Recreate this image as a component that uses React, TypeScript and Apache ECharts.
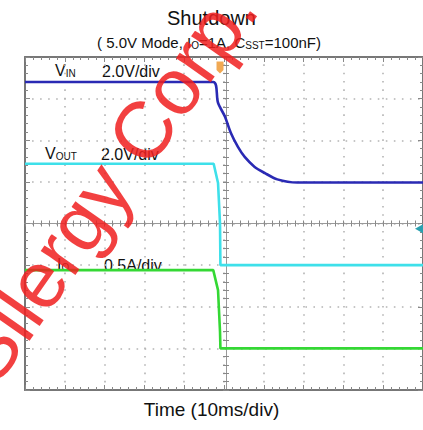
import React, { useEffect, useRef } from "react";
import * as echarts from "echarts";

// time in ms (10 ms/div, trigger at 0)
const vinTime = [-50, -2.7, -1.5, 0.25, 1.7, 3.5, 5.2, 7.7, 10.2, 13.4, 18.4, 50];
const vinValue = [4.8, 4.8, 3.8, 3.13, 2.36, 1.68, 1.2, 0.72, 0.43, 0.12, -0.03, -0.03];
const voutTime = [-50, -2.6, -1.5, -1.0, -0.9, 50];
const voutValue = [4.87, 4.87, 3.95, 2.0, 0.0, 0.0];
const ioTime = [-50, -2.7, -1.5, -1.0, -0.9, 50];
const ioValue = [0.94, 0.94, 0.7, 0.2, 0.0, 0.0];

const titleText = "Shutdown";
const xLabel = "Time (10ms/div)";
const watermark = "Silergy Corp. Confidential";

const FONT = "'Liberation Sans', Arial, sans-serif";

function pairs(t: number[], v: number[]) {
  return t.map((x, i) => [x, v[i]]);
}

const frameAxisColor = "#777777";
const dotColor = "#b4b4b4";

function tagSymbol() {
  return "path://M0,0 L10,0 L15,6 L10,12 L0,12 Z";
}

export default function App() {
  const ref = useRef<HTMLDivElement>(null);
  useEffect(() => {
    if (!ref.current) return;
    const chart = echarts.init(ref.current, undefined, { renderer: "svg" });
    const frameX = (pos: "top" | "bottom", split: boolean, offset = 0, inside = true) => ({
      type: "value",
      position: pos,
      offset,
      min: -50,
      max: 50,
      interval: 10,
      axisLine: { show: true, onZero: false, lineStyle: { color: offset ? "#999" : frameAxisColor, width: offset ? 1 : 2 } },
      axisTick: { show: true, inside, length: offset ? 3 : 5, lineStyle: { color: "#888", width: 1 } },
      minorTick: { show: true, splitNumber: 5, length: 3, lineStyle: { color: "#888", width: 1 } },
      axisLabel: { show: false },
      splitLine: split
        ? { show: true, lineStyle: { color: dotColor, width: 1.6, type: [1.6, 6.73], dashOffset: 0.8 } }
        : { show: false },
    });
    const frameY = (pos: "left" | "right", split: boolean, offset = 0, inside = true) => ({
      type: "value",
      position: pos,
      offset,
      min: 0,
      max: 8,
      interval: 1,
      axisLine: { show: true, onZero: false, lineStyle: { color: offset ? "#999" : frameAxisColor, width: offset ? 1 : 2 } },
      axisTick: { show: true, inside, length: offset ? 3 : 5, lineStyle: { color: "#888", width: 1 } },
      minorTick: { show: true, splitNumber: 5, length: 3, lineStyle: { color: "#888", width: 1 } },
      axisLabel: { show: false },
      splitLine: split
        ? { show: true, lineStyle: { color: dotColor, width: 1.6, type: [1.6, 6.44], dashOffset: 0.8 } }
        : { show: false },
    });
    const sub = (main: string, s: string) => ({
      text: `{n|${main}}{s|${s}}`,
      rich: {
        n: { fontSize: 16, fontFamily: FONT, fill: "#111", verticalAlign: "bottom" },
        s: { fontSize: 10, fontFamily: FONT, fill: "#111", verticalAlign: "bottom" },
      },
    });
    const option: any = {
      animation: false,
      backgroundColor: "#ffffff",
      grid: { left: 25, top: 57, width: 402, height: 333, containLabel: false },
      xAxis: [
        frameX("bottom", true),
        frameX("top", false),
        frameX("bottom", false, -166.5, true),
        frameX("bottom", false, -166.5, false),
      ],
      yAxis: [
        frameY("left", true),
        frameY("right", false),
        frameY("left", false, -201, true),
        frameY("left", false, -201, false),
        { type: "value", show: false, min: -10, max: 6 },
        { type: "value", show: false, min: -6, max: 10 },
        { type: "value", show: false, min: -0.5, max: 3.5 },
      ],
      series: [
        {
          type: "line",
          name: "VOUT",
          xAxisIndex: 0,
          yAxisIndex: 5,
          data: pairs(voutTime, voutValue),
          showSymbol: false,
          lineStyle: { color: "#3ee0ea", width: 2.6 },
          z: 3,
          markPoint: {
            data: [
              {
                coord: [-52.3, 0],
                symbol: tagSymbol(),
                symbolSize: [15, 12],
                itemStyle: { color: "#c8eef0", borderColor: "#40b8c8", borderWidth: 1 },
                label: { show: true, formatter: "2", color: "#2a8a9a", fontSize: 9, fontFamily: FONT, fontWeight: "bold", offset: [-1, 0] },
              },
              {
                coord: [49, 1.75],
                symbol: "triangle",
                symbolRotate: 90,
                symbolSize: [9, 8],
                itemStyle: { color: "#2aa0b0" },
                label: { show: false },
              },
            ],
          },
        },
        {
          type: "line",
          name: "IO",
          xAxisIndex: 0,
          yAxisIndex: 6,
          data: pairs(ioTime, ioValue),
          showSymbol: false,
          lineStyle: { color: "#34d834", width: 2.6 },
          z: 3,
          markPoint: {
            data: [
              {
                coord: [-52.3, 0],
                symbol: tagSymbol(),
                symbolSize: [15, 12],
                itemStyle: { color: "#22a022", borderColor: "#1a801a", borderWidth: 1 },
                label: { show: true, formatter: "4", color: "#ffffff", fontSize: 9, fontFamily: FONT, fontWeight: "bold", offset: [-1, 0] },
              },
            ],
          },
        },
        {
          type: "line",
          name: "VIN",
          xAxisIndex: 0,
          yAxisIndex: 4,
          data: pairs(vinTime, vinValue),
          showSymbol: false,
          smooth: 0.3,
          lineStyle: { color: "#2a2ab4", width: 2.6 },
          z: 4,
          markPoint: {
            data: [
              {
                coord: [-52.3, 0],
                symbol: tagSymbol(),
                symbolSize: [15, 12],
                itemStyle: { color: "#f4f4ff", borderColor: "#7878c0", borderWidth: 1 },
                label: { show: true, formatter: "1", color: "#5a5aa8", fontSize: 9, fontFamily: FONT, fontWeight: "bold", offset: [-1, 0] },
              },
              {
                coord: [-1.0, 5.5],
                symbol: "path://M0,0 L8,0 L8,10 L4,14 L0,10 Z",
                symbolSize: [7, 12],
                itemStyle: { color: "#f0a040", opacity: 0.9 },
                label: { show: false },
              },
            ],
          },
        },
      ],
      graphic: [
        {
          type: "text",
          left: "center",
          top: 8,
          style: { text: titleText, fontSize: 20, fontFamily: FONT, fill: "#111" },
        },
        {
          type: "text",
          left: 97,
          top: 35,
          style: {
            text: "{n|( 5.0V Mode, I}{s|O}{n|=1A, C}{s|SST}{n|=100nF)}",
            rich: {
              n: { fontSize: 15, fontFamily: FONT, fill: "#111", verticalAlign: "bottom" },
              s: { fontSize: 10, fontFamily: FONT, fill: "#111", verticalAlign: "bottom" },
            },
          },
        },
        { type: "text", x: 55, y: 62, style: sub("V", "IN") },
        { type: "text", x: 102, y: 63, style: { text: "2.0V/div", fontSize: 16, fontFamily: FONT, fill: "#111" } },
        { type: "text", x: 45, y: 145, style: sub("V", "OUT") },
        { type: "text", x: 101, y: 146, style: { text: "2.0V/div", fontSize: 16, fontFamily: FONT, fill: "#111" } },
        { type: "text", x: 57, y: 256, style: sub("I", "O") },
        { type: "text", x: 104, y: 257, style: { text: "0.5A/div", fontSize: 16, fontFamily: FONT, fill: "#111" } },
        {
          type: "text",
          left: "center",
          top: 400,
          style: { text: xLabel, fontSize: 19, fontFamily: FONT, fill: "#111" },
        },
        {
          type: "text",
          x: 6,
          y: 396,
          rotation: (55 * Math.PI) / 180,
          z: 100,
          style: {
            text: watermark,
            fontSize: 80,
            fontFamily: FONT,
            fill: "rgba(240, 30, 30, 0.85)",
            verticalAlign: "bottom",
            align: "left",
          },
        },
      ],
    };
    chart.setOption(option);
    return () => chart.dispose();
  }, []);
  return (
    <div
      ref={ref}
      style={{ position: "fixed", left: 0, top: 0, width: 423, height: 430, background: "#fff" }}
    />
  );
}
